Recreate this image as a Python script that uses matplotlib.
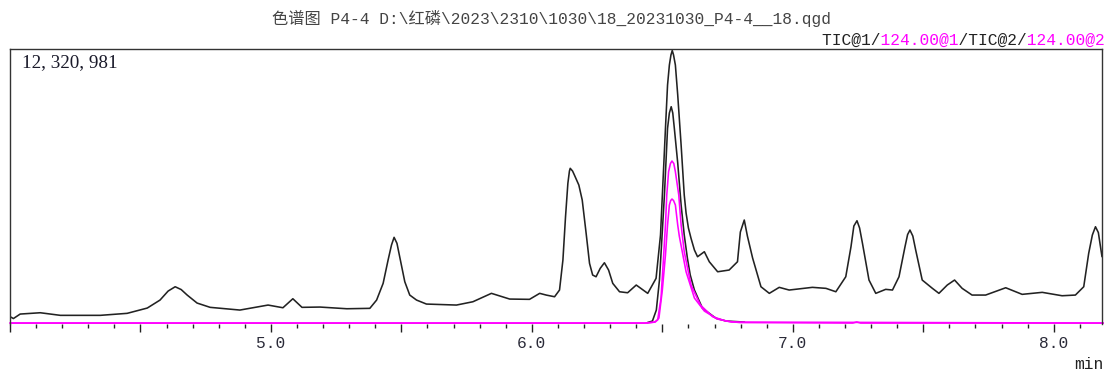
import matplotlib
matplotlib.use('Agg')
import matplotlib.pyplot as plt
from matplotlib.ticker import MultipleLocator, FuncFormatter

# chromatogram values, time in min, intensity in millions of counts
y_max = 12320981

tic1_t = [4.001, 4.013, 4.039, 4.116, 4.193, 4.346, 4.449, 4.526, 4.575, 4.606,
          4.633, 4.656, 4.679, 4.717, 4.767, 4.881, 4.989, 5.046, 5.084, 5.119,
          5.188, 5.291, 5.379, 5.405, 5.430, 5.449, 5.462, 5.472, 5.483, 5.496,
          5.513, 5.532, 5.558, 5.596, 5.711, 5.774, 5.845, 5.915, 5.991, 6.030,
          6.055, 6.087, 6.106, 6.119, 6.129, 6.138, 6.144, 6.147, 6.156, 6.163,
          6.180, 6.193, 6.208, 6.221, 6.233, 6.246, 6.262, 6.278, 6.294, 6.310,
          6.336, 6.367, 6.400, 6.444, 6.476, 6.493, 6.503, 6.512, 6.520, 6.527,
          6.533, 6.538, 6.543, 6.550, 6.559, 6.572, 6.584, 6.591, 6.600, 6.610,
          6.623, 6.635, 6.661, 6.680, 6.712, 6.756, 6.788, 6.799, 6.814, 6.826,
          6.846, 6.878, 6.910, 6.948, 6.986, 7.075, 7.127, 7.165, 7.203, 7.223,
          7.234, 7.246, 7.256, 7.267, 7.292, 7.318, 7.356, 7.382, 7.407, 7.430,
          7.440, 7.449, 7.460, 7.471, 7.496, 7.535, 7.560, 7.592, 7.620, 7.649,
          7.687, 7.739, 7.816, 7.879, 7.956, 8.032, 8.083, 8.115, 8.134, 8.148,
          8.160, 8.171, 8.179, 8.185]
tic1_i = [0.284, 0.203, 0.405, 0.464, 0.347, 0.347, 0.437, 0.675, 1.035, 1.440,
          1.634, 1.508, 1.260, 0.900, 0.707, 0.585, 0.810, 0.689, 1.094, 0.707,
          0.720, 0.644, 0.662, 1.035, 1.787, 2.836, 3.511, 3.858, 3.588, 2.836,
          1.859, 1.260, 1.035, 0.855, 0.810, 0.959, 1.337, 1.080, 1.067, 1.337,
          1.260, 1.184, 1.486, 2.836, 4.785, 6.289, 6.842, 6.964, 6.842, 6.662,
          6.212, 5.537, 4.038, 2.687, 2.161, 2.084, 2.462, 2.714, 2.386, 1.787,
          1.409, 1.364, 1.711, 1.337, 2.012, 3.961, 6.514, 8.765, 10.714, 11.614,
          12.064, 12.267, 12.064, 11.614, 10.264, 8.013, 5.762, 4.952, 4.277, 3.813,
          3.286, 2.985, 3.210, 2.759, 2.309, 2.386, 2.759, 4.096, 4.637, 3.916,
          2.926, 1.634, 1.337, 1.607, 1.486, 1.607, 1.562, 1.409, 2.084, 3.435,
          4.367, 4.605, 4.277, 3.588, 1.936, 1.337, 1.517, 1.486, 2.084, 3.435,
          3.984, 4.186, 3.916, 3.286, 1.936, 1.562, 1.337, 1.711, 1.936, 1.562,
          1.260, 1.260, 1.589, 1.292, 1.382, 1.229, 1.260, 1.634, 3.138, 3.961,
          4.335, 4.074, 3.435, 2.985]

tic2_t = [6.443, 6.462, 6.477, 6.489, 6.498, 6.508, 6.514, 6.520, 6.527, 6.534,
          6.540, 6.546, 6.559, 6.572, 6.584, 6.596, 6.607, 6.623, 6.654, 6.706,
          6.745, 6.815]
tic2_i = [0.023, 0.090, 0.585, 1.936, 3.736, 5.762, 7.261, 8.765, 9.453, 9.737,
          9.453, 8.765, 7.203, 5.312, 3.961, 2.926, 2.161, 1.486, 0.662, 0.212,
          0.090, 0.045]

ion1_t = [4.000, 6.431, 6.469, 6.482, 6.495, 6.504, 6.512, 6.517, 6.524, 6.531,
          6.537, 6.544, 6.550, 6.563, 6.572, 6.584, 6.610, 6.646, 6.693, 6.744,
          6.796, 7.230, 7.245, 7.260, 8.190]
ion1_i = [0.000, 0.000, 0.045, 0.135, 1.125, 2.836, 4.412, 5.762, 6.811, 7.180,
          7.293, 7.180, 6.811, 5.762, 4.412, 3.210, 1.711, 0.810, 0.284, 0.090,
          0.023, 0.000, 0.050, 0.000, 0.000]

ion2_t = [4.000, 6.443, 6.473, 6.487, 6.500, 6.512, 6.520, 6.527, 6.532, 6.537,
          6.543, 6.550, 6.559, 6.565, 6.591, 6.623, 6.661, 6.711, 6.765, 8.190]
ion2_i = [0.000, 0.000, 0.045, 0.225, 1.486, 3.061, 4.412, 5.312, 5.514, 5.582,
          5.514, 5.312, 4.412, 3.916, 2.309, 1.125, 0.540, 0.180, 0.045, 0.000]

title = '色谱图 P4-4 D:\\红磷\\2023\\2310\\1030\\18_20231030_P4-4__18.qgd'
trace_names = ['TIC@1', '124.00@1', 'TIC@2', '124.00@2']
trace_colors = ['#111111', '#ff00ff', '#111111', '#ff00ff']

W, H = 1105, 371
fig = plt.figure(figsize=(W / 100, H / 100), dpi=100)
ax = fig.add_axes([10 / W, (H - 323.5) / H, 1092 / W, (323.5 - 49.3) / H])

line_kw = dict(lw=1.15, solid_joinstyle='round', solid_capstyle='round')
ax.plot(tic1_t, tic1_i, color='#222222', **line_kw)
ax.plot(tic2_t, tic2_i, color='#222222', **line_kw)
ax.plot(ion1_t, ion1_i, color='#ff00ff', clip_on=False, **line_kw)
ax.plot(ion2_t, ion2_i, color='#ff00ff', clip_on=False, **line_kw)

ax.set_xlim(4.0, 8.185)
ax.set_ylim(-0.02, y_max / 1e6)

for s in ['left', 'top', 'right']:
    ax.spines[s].set_color('#333333')
    ax.spines[s].set_linewidth(1.0)
ax.spines['bottom'].set_visible(False)
ax.set_yticks([])

mono = ['Liberation Mono', 'Noto Sans CJK SC']
ax.xaxis.set_major_locator(MultipleLocator(0.5))
ax.xaxis.set_minor_locator(MultipleLocator(0.1))
ax.xaxis.set_major_formatter(FuncFormatter(
    lambda v, p: '%.1f' % v if abs(v - round(v)) < 1e-6 and v > 4.5 else ''))
ax.tick_params(axis='x', which='major', direction='out', length=5.8, width=1.0,
               color='#222222', pad=3.0, labelsize=11.7, labelcolor='#2a2a38')
ax.tick_params(axis='x', which='minor', direction='out', length=2.6, width=1.0,
               color='#222222')
for lab in ax.get_xticklabels():
    lab.set_family(mono)

ax.text(12 / 1092, 1 - (63 - 49.3) / 274.2, '12, 320, 981', transform=ax.transAxes,
        ha='left', va='center', fontsize=13.8, family='Liberation Serif', color='#1a1a2a')

fig.text(272 / W, 1 - 18 / H, title, ha='left', va='center', fontsize=11.7,
         family=mono, color='#444444')

# legend line: black and magenta parts drawn over each other in a monospace font
black_str = ''
pink_str = ''
for k, name in enumerate(trace_names):
    sep = '/' if k < len(trace_names) - 1 else ''
    if trace_colors[k] == '#ff00ff':
        pink_str += name
        black_str += ' ' * len(name)
    else:
        black_str += name
        pink_str += ' ' * len(name)
    black_str += sep
    pink_str += ' ' * len(sep)
lx = 822.5 / W
ly = 1 - 40 / H
fig.text(lx, ly, black_str, ha='left', va='center', fontsize=11.7, family=mono, color='#222222')
fig.text(lx, ly, pink_str, ha='left', va='center', fontsize=11.7, family=mono, color='#ff00ff')

fig.text(1103 / W, 2 / H, 'min', ha='right', va='baseline', fontsize=11.7,
         family=mono, color='#222222')

fig.savefig('out.png', dpi=100)
